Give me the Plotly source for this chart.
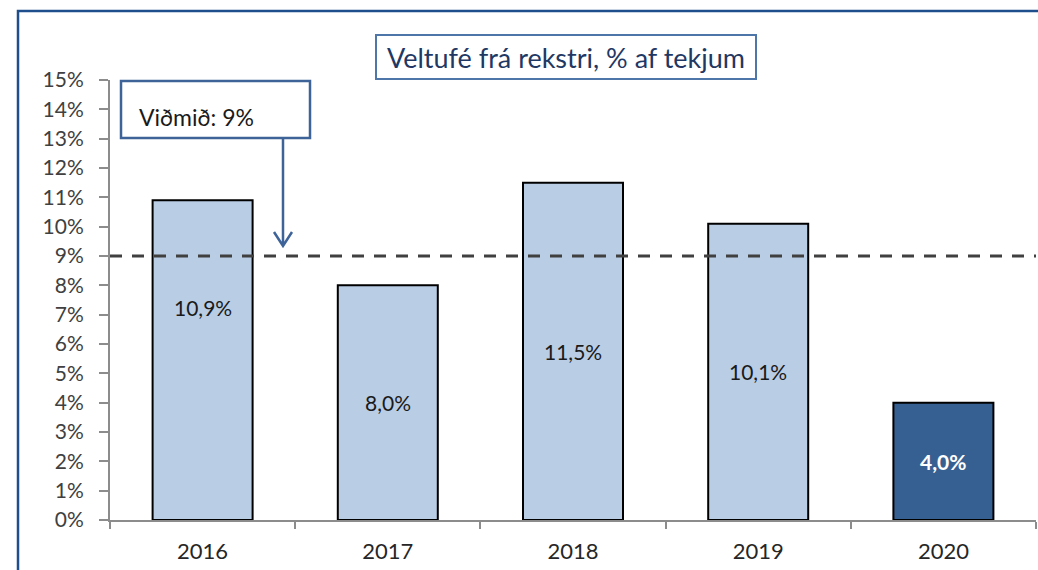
import plotly.graph_objects as go

years = ["2016", "2017", "2018", "2019", "2020"]
values = [10.9, 8.0, 11.5, 10.1, 4.0]
labels = ["10,9%", "8,0%", "11,5%", "10,1%", "4,0%"]
bar_colors = ["#B9CDE5", "#B9CDE5", "#B9CDE5", "#B9CDE5", "#376092"]
label_colors = ["#1a1a1a", "#1a1a1a", "#1a1a1a", "#1a1a1a", "#FFFFFF"]
label_bold = [False, False, False, False, True]
label_yshift = [53, 0, 0, 0, 0]
benchmark = 9
benchmark_text = "Viðmið: 9%"
title_text = "Veltufé frá rekstri, % af tekjum"
y_ticks = list(range(0, 16))
y_tick_text = [f"{t}%" for t in y_ticks]

W, H = 1038, 570
L, R, T, B = 110, 2, 80, 50
PW, PH = W - L - R, H - T - B

def px(x):
    return (x - L) / PW

def py(y):
    return (H - B - y) / PH

FONT = "Lato, Carlito, Calibri, sans-serif"

fig = go.Figure()
fig.add_trace(go.Bar(
    x=years, y=values,
    marker=dict(color=bar_colors, line=dict(color="#000000", width=2)),
    hoverinfo="skip",
))

for i, (v, lab, c, b, ys) in enumerate(zip(values, labels, label_colors, label_bold, label_yshift)):
    fig.add_annotation(
        x=i, y=v / 2, xref="x", yref="y", text=f"<b>{lab}</b>" if b else lab,
        showarrow=False, yshift=ys, xanchor="center", yanchor="middle",
        font=dict(family=FONT, size=21, color=c),
    )

# benchmark dashed line
fig.add_shape(type="line", xref="paper", yref="y", x0=0, x1=1, y0=benchmark, y1=benchmark,
              line=dict(color="#404040", width=3, dash="12px,10px"), layer="above")

# outer border
fig.add_shape(type="rect", xref="paper", yref="paper",
              x0=px(18), x1=px(1060), y0=py(11), y1=py(600),
              line=dict(color="#1F4E8C", width=2.5), layer="below")

# title box
fig.add_annotation(
    xref="paper", yref="paper", x=px(565.5), y=py(57), text=title_text, showarrow=False,
    xanchor="center", yanchor="middle",
    font=dict(family=FONT, size=27, color="#1F3864"),
    bordercolor="#4F76A8", borderwidth=2, width=376, height=40, bgcolor="#FFFFFF",
)

# benchmark box
fig.add_shape(type="rect", xref="paper", yref="paper",
              x0=px(121), x1=px(310), y0=py(138), y1=py(81),
              line=dict(color="#3D6399", width=2.5), fillcolor="#FFFFFF", layer="above")
fig.add_annotation(
    xref="paper", yref="paper", x=px(137), y=py(117), text=benchmark_text, showarrow=False,
    xanchor="left", yanchor="middle",
    font=dict(family=FONT, size=23, color="#1a1a1a"),
)
# arrow
ax0, ay0, ay1 = 283, 139, 246
path = (f"M {px(ax0)},{py(ay0)} L {px(ax0)},{py(ay1)} "
        f"M {px(ax0-9)},{py(ay1-14)} L {px(ax0)},{py(ay1)} L {px(ax0+9)},{py(ay1-14)}")
fig.add_shape(type="path", xref="paper", yref="paper", path=path,
              line=dict(color="#3D6399", width=2.5), layer="above")

fig.update_layout(
    width=W, height=H,
    margin=dict(l=L, r=R, t=T, b=B),
    paper_bgcolor="#FFFFFF", plot_bgcolor="#FFFFFF",
    bargap=0.46, showlegend=False,
    font=dict(family=FONT),
)
fig.update_xaxes(
    type="category", range=[-0.5, 4.5], tickson="boundaries",
    ticks="outside", ticklen=7, tickwidth=2, tickcolor="#8C8C8C",
    showline=True, linecolor="#8C8C8C", linewidth=2, showgrid=False, zeroline=False,
    tickfont=dict(family=FONT, size=22, color="#262626"), ticklabelstandoff=11,
)
fig.update_yaxes(
    range=[0, 15], tickvals=y_ticks, ticktext=y_tick_text,
    ticks="outside", ticklen=9, tickwidth=2, tickcolor="#8C8C8C",
    showline=True, linecolor="#8C8C8C", linewidth=2, showgrid=False, zeroline=False,
    tickfont=dict(family=FONT, size=21, color="#404040"), ticklabelstandoff=11,
)

fig.write_html("out.html", config={"displayModeBar": False},
               post_script="document.body.style.margin='0';")
